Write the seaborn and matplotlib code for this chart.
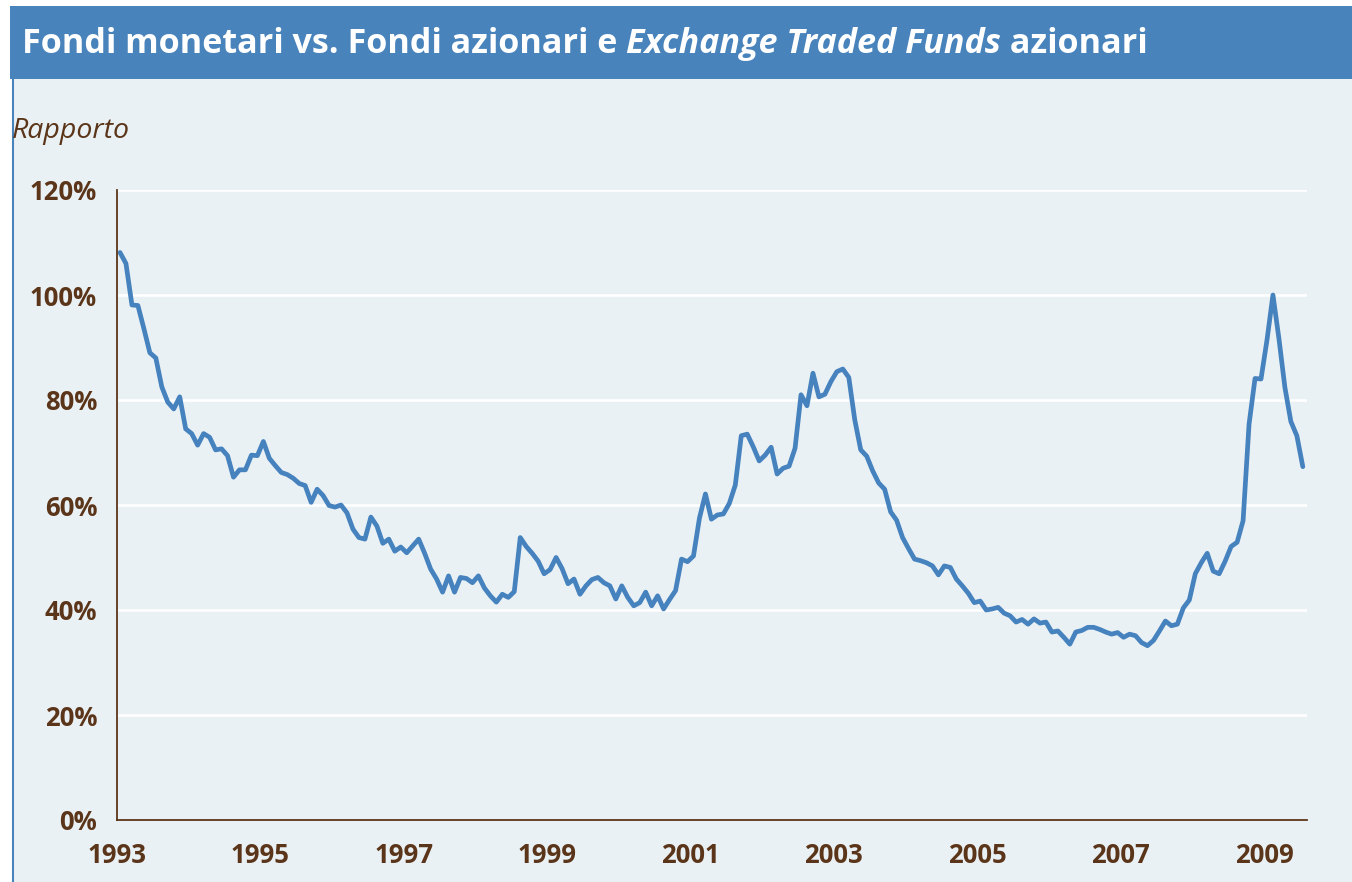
import numpy as np
import pandas as pd
import matplotlib
matplotlib.use("Agg")
import matplotlib.pyplot as plt
import seaborn as sns
from matplotlib.patches import Rectangle
from matplotlib.lines import Line2D

# Dati mensili (rapporto %), gen 1993 - lug 2009
start_year = 1993
ratio = [
    108.1, 106.0, 98.1, 98.0, 93.6, 89.0, 88.0, 82.5, 79.6, 78.3, 80.6, 74.5,   # 1993
    73.6, 71.4, 73.6, 72.9, 70.5, 70.7, 69.4, 65.3, 66.7, 66.7, 69.5, 69.4,     # 1994
    72.1, 68.9, 67.5, 66.2, 65.8, 65.1, 64.1, 63.7, 60.5, 63.0, 61.8, 59.9,     # 1995
    59.6, 60.0, 58.5, 55.4, 53.8, 53.5, 57.7, 56.0, 52.7, 53.5, 51.2, 52.0,     # 1996
    50.9, 52.2, 53.5, 50.8, 47.8, 45.9, 43.4, 46.5, 43.4, 46.2, 46.0, 45.2,     # 1997
    46.5, 44.2, 42.7, 41.5, 43.0, 42.4, 43.5, 53.8, 52.1, 50.8, 49.3, 46.9,     # 1998
    47.7, 50.0, 47.9, 45.0, 45.9, 43.0, 44.6, 45.8, 46.2, 45.2, 44.6, 42.1,     # 1999
    44.6, 42.4, 40.8, 41.4, 43.4, 40.8, 42.7, 40.2, 42.0, 43.7, 49.7, 49.2,     # 2000
    50.3, 57.5, 62.1, 57.3, 58.1, 58.3, 60.3, 63.8, 73.2, 73.5, 71.1, 68.4,     # 2001
    69.5, 71.0, 65.9, 67.0, 67.4, 70.8, 81.0, 78.9, 85.1, 80.6, 81.1, 83.5,     # 2002
    85.4, 85.9, 84.3, 76.2, 70.5, 69.3, 66.5, 64.2, 63.0, 58.7, 57.1, 53.8,     # 2003
    51.7, 49.7, 49.4, 49.0, 48.4, 46.7, 48.4, 48.1, 45.9, 44.6, 43.2, 41.4,     # 2004
    41.7, 40.0, 40.2, 40.5, 39.4, 38.9, 37.7, 38.2, 37.3, 38.3, 37.5, 37.7,     # 2005
    35.8, 36.0, 34.8, 33.5, 35.8, 36.1, 36.7, 36.7, 36.3, 35.8, 35.4, 35.7,     # 2006
    34.8, 35.4, 35.1, 33.8, 33.2, 34.2, 36.0, 37.9, 37.0, 37.3, 40.4, 41.9,     # 2007
    46.9, 49.0, 50.8, 47.4, 46.9, 49.3, 52.1, 52.9, 57.0, 75.4, 84.1, 84.0,     # 2008
    91.4, 100.0, 91.7, 82.4, 75.9, 73.2, 67.3,                                  # 2009
]
year_ticks = [1993, 1995, 1997, 1999, 2001, 2003, 2005, 2007, 2009]
pct_ticks = [0, 20, 40, 60, 80, 100, 120]

# asse x in anni decimali (metà mese)
df = pd.DataFrame({
    "anno": start_year + (np.arange(len(ratio)) + 0.5) / 12,
    "rapporto": ratio,
})

bg = "#EAF1F5"
banner = "#4883BC"
brown = "#5B3519"
line_col = "#4582BE"

sns.set_style("white")
plt.rcParams["font.family"] = ["Open Sans", "DejaVu Sans"]

W, H = 1352, 882
fig = plt.figure(figsize=(W / 100, H / 100), dpi=100, facecolor="white")

# sfondo, banner e filetto sinistro (sotto agli assi)
fig.patches.append(Rectangle((14 / W, 0), 1 - 14 / W, 1 - 79 / H, transform=fig.transFigure,
                             facecolor=bg, edgecolor="none", zorder=-2))
fig.patches.append(Rectangle((10 / W, 1 - 79 / H), 1 - 10 / W, 73 / H, transform=fig.transFigure,
                             facecolor=banner, edgecolor="none", zorder=-2))
fig.lines.append(Line2D([13 / W, 13 / W], [0, 1 - 79 / H], transform=fig.transFigure,
                        color=banner, linewidth=1.5, zorder=-1))

ax = fig.add_axes([117 / W, 1 - 820 / H, (1307 - 117) / W, (820 - 190) / H])
ax.set_facecolor(bg)

sns.lineplot(data=df, x="anno", y="rapporto", ax=ax, color=line_col, linewidth=3.4)

ax.set_xlim(1993, 2009.6)
ax.set_ylim(0, 120)
ax.set_xticks(year_ticks)
ax.set_xticklabels([str(y) for y in year_ticks])
ax.set_yticks(pct_ticks)
ax.set_yticklabels([f"{p}%" for p in pct_ticks])
ax.set_xlabel("")
ax.set_ylabel("")

ax.yaxis.grid(True, color="white", linewidth=1.8)
ax.xaxis.grid(False)
ax.set_axisbelow(True)
sns.despine(ax=ax, top=True, right=True)
for s in ("left", "bottom"):
    ax.spines[s].set_color(brown)
    ax.spines[s].set_linewidth(1.3)
ax.tick_params(axis="both", colors=brown, width=1.3, direction="out")
ax.tick_params(axis="y", length=5.8, pad=8.5)
ax.tick_params(axis="x", length=5, pad=11)
for lab in ax.get_xticklabels() + ax.get_yticklabels():
    lab.set_fontsize(18.5)
    lab.set_fontweight("bold")
    lab.set_color(brown)

# etichetta unità
fig.text(12 / W, 1 - 131 / H, "Rapporto", fontsize=20.5, style="italic", color=brown,
         ha="left", va="center")

# titolo con parte in corsivo
fig.canvas.draw()
renderer = fig.canvas.get_renderer()
x0 = 22 / W
y0 = 1 - 44 / H
parts = [("Fondi monetari vs. Fondi azionari e ", "normal"),
         ("Exchange Traded Funds", "italic"),
         (" azionari", "normal")]
for txt, st in parts:
    t = fig.text(x0, y0, txt, fontsize=24.6, fontweight="bold", style=st, color="white",
                 ha="left", va="center")
    bb = t.get_window_extent(renderer)
    x0 += bb.width / W

fig.savefig("out.png", dpi=100, facecolor="white")
